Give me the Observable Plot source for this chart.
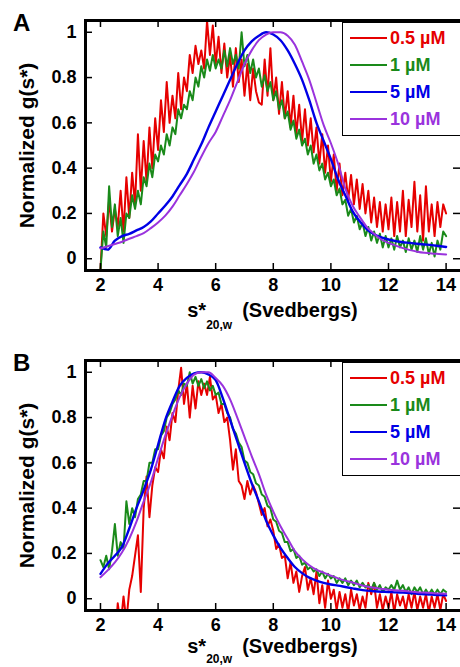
<!DOCTYPE html>
<html>
<head>
<meta charset="utf-8">
<script src="https://cdn.jsdelivr.net/npm/d3@7"></script>
<script src="https://cdn.jsdelivr.net/npm/@observablehq/plot@0.6"></script>
<style>
  html, body { margin: 0; padding: 0; background: #fff; }
  body { width: 460px; height: 667px; overflow: hidden; position: relative;
         font-family: Arial, "Liberation Sans", sans-serif; }
  .panel { position: absolute; left: 0; width: 460px; height: 340px; }
  .panel svg { position: absolute; left: 0; top: 0; }
  .letter { position: absolute; left: 13px; top: 11px; font: bold 24px/24px Arial, "Liberation Sans", sans-serif; color: #000; }
  .legend { position: absolute; left: 342px; top: 22px; width: 140px; height: 114px; box-sizing: border-box;
            border: 1px solid #000; background: #fff; padding-top: 2px; }
  .legend .row { height: 27px; line-height: 27px; white-space: nowrap; font: bold 18px/27px Arial, "Liberation Sans", sans-serif; }
  .legend .sw { display: inline-block; width: 37px; height: 2px; vertical-align: middle; margin-left: 7px; margin-right: 3px; position: relative; top: -1px; }
  .xlabel { position: absolute; left: 85px; width: 375px; top: 300px; text-align: center; white-space: nowrap;
            font: bold 20px/20px Arial, "Liberation Sans", sans-serif; color: #000; }
  .xlabel sub { font-size: 12px; vertical-align: -12px; line-height: 12px; margin-right: 10px; }
  #panelB .xlabel { top: 296px; }
  #panelB .xlabel sub { vertical-align: -10px; }
</style>
</head>
<body>
<div id="panelA" class="panel" style="top:0px"></div>
<div id="panelB" class="panel" style="top:340px"></div>
<script>
// ---------- data ----------
const xTicks = [2, 4, 6, 8, 10, 12, 14];
const yTicks = [0, 0.2, 0.4, 0.6, 0.8, 1];
const yLabel = "Normalized g(s*)";
const panelLetters = ["A", "B"];
const seriesLabels = ["0.5 µM", "1 µM", "5 µM", "10 µM"];
const seriesColors = ["#e60000", "#1a8a1a", "#0000e6", "#9a33dd"];

// sampling grid of the curves (Svedbergs)
const noisyStart = 2, noisyStep = 0.1;   // 0.5 µM and 1 µM, 2.0 … 14.0
const smoothStart = 2, smoothStep = 0.25; // 5 µM and 10 µM, 2.0 … 14.0

// Panel A
const redA = [
  -0.05,0.20,0.10,0.26,0.12,0.22,0.14,0.30,0.12,0.36,
  0.18,0.38,0.24,0.55,0.30,0.52,0.34,0.58,0.40,0.62,
  0.48,0.70,0.56,0.78,0.60,0.72,0.62,0.82,0.66,0.80,
  0.74,0.90,0.82,0.94,0.86,0.92,0.84,1.05,0.90,1.03,
  0.86,0.98,0.82,0.95,0.80,0.90,0.76,0.93,0.78,0.88,
  0.72,0.86,0.70,0.84,0.74,0.69,0.68,0.88,0.72,0.93,
  0.70,0.80,0.64,0.78,0.62,0.74,0.58,0.72,0.55,0.68,
  0.52,0.66,0.50,0.62,0.47,0.58,0.42,0.55,0.38,0.50,
  0.34,0.46,0.30,0.42,0.28,0.38,0.26,0.37,0.24,0.35,
  0.22,0.33,0.20,0.30,0.16,0.27,0.14,0.25,0.12,0.24,
  0.13,0.27,0.10,0.25,0.12,0.30,0.10,0.26,0.14,0.34,
  0.12,0.28,0.08,0.32,0.12,0.24,0.10,0.25,0.14,0.24,
  0.20];
const greenA = [
  -0.05,0.12,0.05,0.32,0.14,0.24,0.10,0.18,0.07,0.20,
  0.18,0.28,0.22,0.30,0.24,0.36,0.32,0.42,0.36,0.46,
  0.43,0.50,0.46,0.55,0.50,0.58,0.55,0.66,0.62,0.68,
  0.66,0.74,0.70,0.80,0.76,0.85,0.80,0.88,0.83,0.90,
  0.84,0.88,0.84,0.92,0.85,0.93,0.86,0.90,0.84,1.00,
  0.85,0.90,0.82,0.88,0.80,0.84,0.76,0.81,0.74,0.78,
  0.70,0.74,0.66,0.70,0.62,0.65,0.57,0.61,0.53,0.57,
  0.50,0.53,0.46,0.50,0.42,0.46,0.39,0.42,0.35,0.38,
  0.32,0.35,0.28,0.31,0.24,0.26,0.19,0.22,0.16,0.19,
  0.13,0.16,0.10,0.14,0.08,0.12,0.07,0.11,0.05,0.10,
  0.05,0.09,0.04,0.10,0.05,0.08,0.03,0.09,0.04,0.08,
  0.03,0.10,0.04,0.09,0.02,0.07,0.01,0.08,0.04,0.12,
  0.10];
const blueA = [
  0.050,0.040,0.080,0.100,0.110,0.125,0.140,0.165,0.200,0.235,
  0.275,0.325,0.375,0.440,0.505,0.580,0.650,0.720,0.790,0.860,
  0.920,0.960,0.985,1.000,0.990,0.965,0.920,0.860,0.790,0.700,
  0.600,0.520,0.440,0.350,0.280,0.210,0.165,0.130,0.108,0.094,
  0.085,0.078,0.073,0.070,0.066,0.063,0.060,0.056,0.052];
const purpleA = [
  0.045,0.055,0.065,0.075,0.088,0.100,0.113,0.135,0.160,0.190,
  0.230,0.280,0.330,0.385,0.450,0.510,0.560,0.630,0.700,0.780,
  0.860,0.920,0.965,0.990,1.000,1.000,0.985,0.945,0.870,0.790,
  0.690,0.590,0.510,0.420,0.310,0.235,0.185,0.140,0.110,0.085,
  0.070,0.058,0.047,0.038,0.031,0.026,0.023,0.021,0.019];

// Panel B
const redB = [
  -0.20,-0.20,-0.20,-0.20,-0.20,-0.20,-0.02,-0.12,0.01,-0.10,
  0.04,0.10,0.19,0.28,0.03,0.40,0.54,0.36,0.50,0.58,
  0.56,0.66,0.62,0.76,0.70,0.82,0.78,0.92,1.02,0.86,
  0.95,0.80,0.94,0.84,0.96,0.90,0.95,0.90,0.98,0.88,
  0.90,0.82,0.86,0.78,0.80,0.70,0.57,0.66,0.52,0.50,
  0.44,0.52,0.46,0.50,0.47,0.42,0.37,0.40,0.32,0.35,
  0.30,0.22,0.24,0.18,0.19,0.09,0.16,0.07,0.12,0.03,
  0.10,0.14,0.04,0.09,0.02,0.12,-0.02,0.06,-0.04,0.08,
  0.00,0.04,-0.05,0.03,-0.04,0.02,-0.06,0.04,-0.03,0.02,
  -0.05,0.01,-0.04,0.07,0.02,0.07,-0.04,0.02,-0.05,0.01,
  -0.04,0.03,-0.06,0.02,-0.03,0.01,-0.05,0.02,-0.04,0.03,
  -0.05,0.01,-0.04,0.02,-0.06,0.01,-0.04,0.02,-0.05,0.02,
  -0.01];
const greenB = [
  0.17,0.14,0.19,0.13,0.21,0.33,0.19,0.25,0.22,0.43,
  0.33,0.40,0.36,0.44,0.46,0.52,0.52,0.60,0.60,0.66,
  0.66,0.72,0.74,0.80,0.82,0.86,0.88,0.92,0.90,0.95,
  0.94,1.00,0.95,0.98,0.94,0.97,0.93,0.96,0.92,0.94,
  0.90,0.91,0.86,0.86,0.82,0.80,0.75,0.73,0.69,0.67,
  0.61,0.60,0.56,0.55,0.51,0.50,0.46,0.45,0.41,0.40,
  0.35,0.34,0.30,0.29,0.25,0.25,0.21,0.22,0.18,0.19,
  0.15,0.16,0.13,0.14,0.12,0.13,0.10,0.12,0.09,0.11,
  0.09,0.10,0.07,0.09,0.07,0.09,0.06,0.08,0.06,0.08,
  0.05,0.07,0.05,0.06,0.04,0.07,0.04,0.06,0.03,0.05,
  0.04,0.06,0.04,0.08,0.04,0.06,0.03,0.05,0.02,0.05,
  0.03,0.05,0.02,0.04,0.02,0.04,0.02,0.04,0.02,0.04,
  0.03];
const blueB = [
  0.110,0.155,0.190,0.230,0.310,0.400,0.480,0.570,0.680,0.790,
  0.870,0.940,0.975,0.995,1.000,0.990,0.965,0.885,0.790,0.695,
  0.600,0.510,0.430,0.345,0.280,0.225,0.180,0.140,0.113,0.093,
  0.080,0.070,0.063,0.058,0.052,0.046,0.040,0.036,0.033,0.031,
  0.030,0.028,0.027,0.025,0.022,0.020,0.018,0.016,0.015];
const purpleB = [
  0.095,0.125,0.160,0.205,0.265,0.340,0.430,0.515,0.620,0.720,
  0.810,0.890,0.950,0.990,1.000,1.000,0.975,0.940,0.880,0.800,
  0.715,0.630,0.550,0.460,0.385,0.320,0.265,0.210,0.175,0.148,
  0.128,0.115,0.102,0.090,0.080,0.072,0.062,0.054,0.048,0.044,
  0.040,0.037,0.035,0.032,0.029,0.027,0.025,0.023,0.022];

// ---------- drawing ----------
const FONT = 'Arial, "Liberation Sans", sans-serif';
const seriesWidths = [2, 2, 2.4, 2];

function toPoints(vals, start, step) {
  return vals.map((v, i) => ({x: +(start + i * step).toFixed(2), y: v}));
}

function makePanel(el, letter, series) {
  const lines = series.map((vals, i) => {
    const noisy = i < 2;
    const data = noisy ? toPoints(vals, noisyStart, noisyStep) : toPoints(vals, smoothStart, smoothStep);
    return Plot.line(data, {
      x: "x", y: "y", stroke: seriesColors[i], strokeWidth: seriesWidths[i],
      curve: noisy ? "linear" : "monotone-x", clip: true, strokeLinejoin: "round"
    });
  });

  const chart = Plot.plot({
    width: 460, height: 340,
    marginTop: 20, marginBottom: 70, marginLeft: 85, marginRight: 0,
    x: {domain: [1.48, 14.5]},
    y: {domain: [-0.052, 1.052]},
    style: {fontFamily: FONT, fontSize: "18px", fontWeight: "bold", color: "#000", background: "transparent", overflow: "visible"},
    marks: [
      ...lines,
      Plot.axisX(xTicks, {tickSize: 0, tickPadding: 8, label: null, fontSize: 18, fontWeight: "bold"}),
      Plot.axisY(yTicks, {tickSize: 0, tickPadding: 9, label: null, fontSize: 18, fontWeight: "bold", tickFormat: d => String(d)}),
      Plot.ruleX(xTicks, {x: d => d, insetTop: 243, stroke: "#000", strokeWidth: 1.5}),
      Plot.ruleX(xTicks, {x: d => d, insetBottom: 243, stroke: "#000", strokeWidth: 1.5}),
      Plot.ruleY(yTicks, {y: d => d, insetRight: 368, stroke: "#000", strokeWidth: 1.5}),
      Plot.ruleY(yTicks, {y: d => d, insetLeft: 368, stroke: "#000", strokeWidth: 1.5}),
      Plot.frame({anchor: "left", stroke: "#000", strokeWidth: 3}),
      Plot.frame({anchor: "top", stroke: "#000", strokeWidth: 3}),
      Plot.frame({anchor: "bottom", stroke: "#000", strokeWidth: 3}),
      Plot.text([yLabel], {text: d => d, frameAnchor: "left", rotate: -90, dx: -58,
        fontSize: 21, fontWeight: "bold", fill: "#000", textAnchor: "middle", lineAnchor: "middle"})
    ]
  });
  el.appendChild(chart);

  const L = document.createElement("div");
  L.className = "letter";
  L.textContent = letter;
  el.appendChild(L);

  const leg = document.createElement("div");
  leg.className = "legend";
  seriesLabels.forEach((lab, i) => {
    const row = document.createElement("div");
    row.className = "row";
    row.style.color = seriesColors[i];
    const sw = document.createElement("span");
    sw.className = "sw";
    sw.style.background = seriesColors[i];
    row.appendChild(sw);
    row.appendChild(document.createTextNode(lab));
    leg.appendChild(row);
  });
  el.appendChild(leg);

  const xl = document.createElement("div");
  xl.className = "xlabel";
  xl.innerHTML = "s*<sub>20,w</sub>(Svedbergs)";
  el.appendChild(xl);
}

makePanel(document.getElementById("panelA"), panelLetters[0], [redA, greenA, blueA, purpleA]);
makePanel(document.getElementById("panelB"), panelLetters[1], [redB, greenB, blueB, purpleB]);
</script>
</body>
</html>
